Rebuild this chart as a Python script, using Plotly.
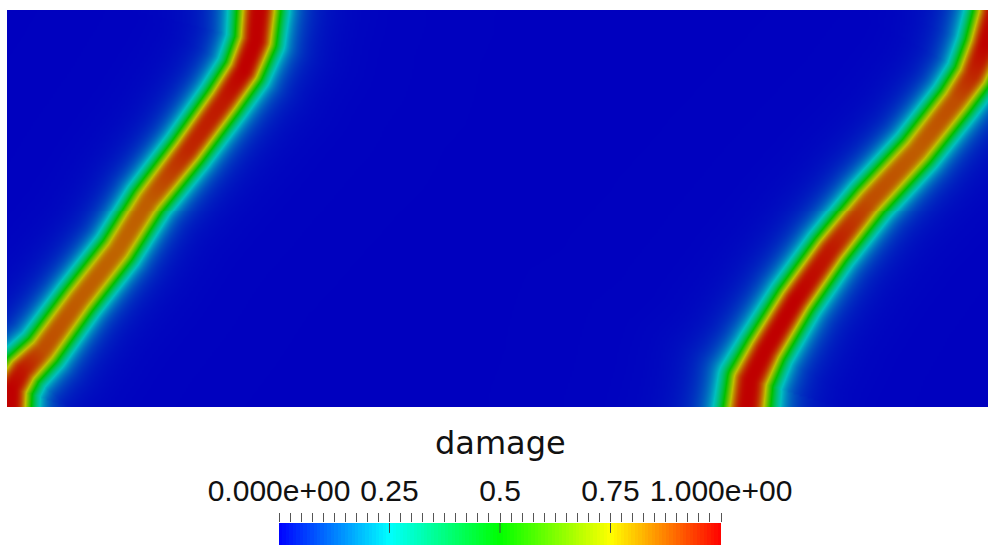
import numpy as np
import plotly.graph_objects as go

# ---------------- data ----------------
# Specimen size (arbitrary length units)
DOMAIN_W = 98.1
DOMAIN_H = 39.7

# Crack 1 (left band): centre-line points, peak damage and band half width along it
crack1_x = [25.1, 25.1, 24.8, 23.6, 21.6, 18.0, 14.1, 11.0, 7.1, 3.5, 1.5, 0.4, 0.2]
crack1_y = [41.2, 39.7, 36.7, 33.7, 30.7, 25.7, 20.7, 15.7, 10.7, 5.7, 3.7, 1.9, -1.3]
crack1_peak = [1.0, 1.0, 1.0, 1.0, 0.97, 0.95, 0.88, 0.87, 0.88, 0.9, 0.97, 1.0, 1.0]
crack1_width = [2.2, 2.2, 2.1, 2.0, 1.95, 1.9, 1.9, 1.9, 1.9, 1.95, 2.0, 2.1, 2.1]

# Crack 2 (right band)
crack2_x = [99.0, 98.7, 97.8, 96.5, 94.8, 90.9, 86.3, 82.3, 78.8, 75.8, 74.3, 73.8]
crack2_y = [41.2, 39.2, 36.2, 33.2, 30.7, 25.7, 20.7, 15.7, 10.7, 5.7, 2.7, -1.3]
crack2_peak = [1.0, 1.0, 1.0, 0.95, 0.9, 0.88, 0.9, 0.97, 1.0, 1.0, 1.0, 1.0]
crack2_width = [2.2, 2.2, 2.1, 2.0, 1.95, 1.95, 1.95, 1.95, 2.0, 2.1, 2.3, 2.4]

# Regularised band profile sharpness
BAND_SHARPNESS = 3.2

# Colour bar labels
cbar_tickvals = [0.0, 0.25, 0.5, 0.75, 1.0]
cbar_ticktext = ["0.000e+00", "0.25", "0.5", "0.75", "1.000e+00"]
cbar_title = "damage"

# ---------------- field construction ----------------
xs = np.linspace(0, DOMAIN_W, 492)
ys = np.linspace(0, DOMAIN_H, 200)
X, Y = np.meshgrid(xs, ys)


def band_field(cx, cy, peak, width):
    best_d = np.full(X.shape, np.inf)
    best_a = np.zeros(X.shape)
    best_w = np.ones(X.shape)
    for i in range(len(cx) - 1):
        ax, ay, bx, by = cx[i], cy[i], cx[i + 1], cy[i + 1]
        dx, dy = bx - ax, by - ay
        L2 = dx * dx + dy * dy
        t = np.clip(((X - ax) * dx + (Y - ay) * dy) / L2, 0, 1)
        px, py = ax + t * dx, ay + t * dy
        d = np.hypot(X - px, Y - py)
        a = peak[i] + t * (peak[i + 1] - peak[i])
        w = width[i] + t * (width[i + 1] - width[i])
        m = d < best_d
        best_d = np.where(m, d, best_d)
        best_a = np.where(m, a, best_a)
        best_w = np.where(m, w, best_w)
    return best_a / (1.0 + (best_d / best_w) ** BAND_SHARPNESS)


damage = np.maximum(band_field(crack1_x, crack1_y, crack1_peak, crack1_width),
                    band_field(crack2_x, crack2_y, crack2_peak, crack2_width))
damage = np.round(damage, 3)

# ---------------- colours ----------------
rainbow = [(0.0, (0, 0, 255)), (0.125, (0, 128, 255)), (0.25, (0, 255, 255)),
           (0.375, (0, 255, 128)), (0.5, (0, 255, 0)), (0.625, (128, 255, 0)),
           (0.75, (255, 255, 0)), (0.875, (255, 128, 0)), (1.0, (255, 0, 0))]


def scale(f):
    return [[p, "rgb(%d,%d,%d)" % tuple(int(round(c * f)) for c in rgb)] for p, rgb in rainbow]


field_scale = scale(0.75)
bar_scale = scale(1.0)

# ---------------- layout helpers (pixel -> paper) ----------------
FIG_W, FIG_H = 988, 545


def xp(px):
    return min(max(px / FIG_W, 0.0), 1.0)


def yp(py):
    return min(max((FIG_H - py) / FIG_H, 0.0), 1.0)


# ---------------- figure ----------------
fig = go.Figure()
fig.add_trace(go.Heatmap(
    x=xs, y=ys, z=damage, zmin=0, zmax=1, colorscale=field_scale,
    zsmooth="best", showscale=False, hoverinfo="skip"))

nbar = 128
bar_vals = (np.arange(nbar) + 0.5) / nbar
fig.add_trace(go.Heatmap(
    x=bar_vals, y=[0], z=[bar_vals], zmin=0, zmax=1, colorscale=bar_scale,
    showscale=False, xaxis="x2", yaxis="y2", hoverinfo="skip"))

fig.update_layout(
    width=FIG_W, height=FIG_H,
    margin=dict(l=0, r=0, t=0, b=0, pad=0, autoexpand=False),
    paper_bgcolor="white", plot_bgcolor="white",
    xaxis=dict(domain=[xp(7), xp(988)], range=[0, DOMAIN_W], visible=False, automargin=False),
    yaxis=dict(domain=[yp(407), yp(10)], range=[0, DOMAIN_H], visible=False, automargin=False),
    xaxis2=dict(domain=[xp(279), xp(721)], range=[0, 1], anchor="y2", side="top",
                automargin=False,
                showgrid=False, zeroline=False, showline=False,
                tickmode="array", tickvals=cbar_tickvals, ticktext=cbar_ticktext,
                ticks="outside", ticklen=9, tickwidth=1, tickcolor="#555555",
                tickfont=dict(family="Liberation Sans", size=30, color="#111111"),
                minor=dict(tickmode="linear", tick0=0, dtick=0.025, ticks="outside",
                           ticklen=9, tickwidth=1, tickcolor="#555555", showgrid=False)),
    yaxis2=dict(domain=[yp(545), yp(523)], range=[-0.5, 0.5], anchor="x2", visible=False,
                automargin=False),
    annotations=[dict(text=cbar_title, xref="paper", yref="paper", x=xp(500),
                      y=yp(443), xanchor="center", yanchor="middle",
                      showarrow=False,
                      font=dict(family="DejaVu Sans", size=32, color="#111111"))],
    shapes=[dict(type="line", xref="x2", yref="y2 domain", x0=v, x1=v, y0=0.55, y1=1.0,
                 line=dict(color="#444444", width=1)) for v in cbar_tickvals[1:-1]],
    showlegend=False,
)

fig.write_html("out.html",
               config={"displayModeBar": False},
               post_script="document.body.style.margin='0';document.body.style.overflow='hidden';")
